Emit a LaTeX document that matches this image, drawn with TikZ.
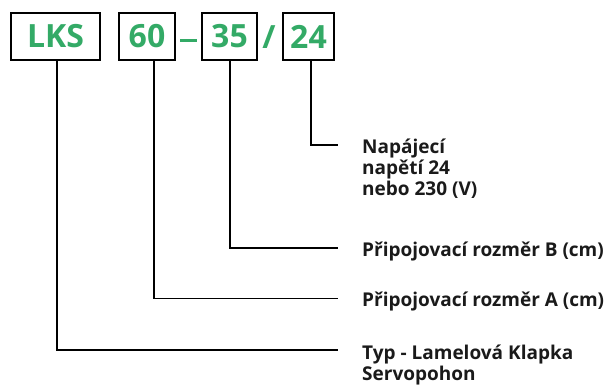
\documentclass[tikz,border=0pt]{standalone}
\usepackage{fontspec}
\setmainfont{Open Sans}
\definecolor{lgreen}{HTML}{33AA66}
\definecolor{ink}{HTML}{1A1A1A}
\begin{document}
\begin{tikzpicture}[x=1pt,y=-1pt,
  codebox/.style={draw=black,line width=2pt,minimum height=47pt,inner sep=0pt,
    text=lgreen,font=\fontsize{32}{34}\selectfont\bfseries},
  sep/.style={text=lgreen,font=\fontsize{32}{34}\selectfont\bfseries,inner sep=0pt},
  lead/.style={draw=black,line width=1.5pt},
  lbl/.style={anchor=base west,align=left,text=ink,inner sep=0pt,
    font=\fontsize{19}{21}\selectfont\bfseries}]
\useasboundingbox (0,0) rectangle (608,385);
\node[codebox,minimum width=89pt] (lks) at (55.5,36.5) {LKS};
\node[codebox,minimum width=56pt] (b60) at (147,36.5) {60};
\node[fill=lgreen,minimum width=17pt,minimum height=3.4pt,inner sep=0pt] (dash) at (188,40.7) {};
\node[codebox,minimum width=55pt] (b35) at (229.5,36.5) {35};
\node[sep] (slash) at (269,37.5) {/};
\node[codebox,minimum width=51pt] (b24) at (308.5,36.5) {24};
\coordinate (e24) at (338,145);
\coordinate (e35) at (338,248);
\coordinate (e60) at (338,298.5);
\coordinate (elks) at (338,350);
\draw[lead] ([xshift=2.5pt]b24.south) |- (e24);
\draw[lead] ([xshift=0.5pt]b35.south) |- (e35);
\draw[lead] ([xshift=7pt]b60.south) |- (e60);
\draw[lead] ([xshift=1.5pt]lks.south) |- (elks);
\node[lbl] (t24) at (362,196) {Napájecí\\napětí 24\\nebo 230 (V)};
\node[lbl] (t35) at (362,256) {Připojovací rozměr B (cm)};
\node[lbl] (t60) at (362,306) {Připojovací rozměr A (cm)};
\node[lbl] (tlks) at (362,380) {Typ - Lamelová Klapka\\Servopohon};
\end{tikzpicture}
\end{document}
